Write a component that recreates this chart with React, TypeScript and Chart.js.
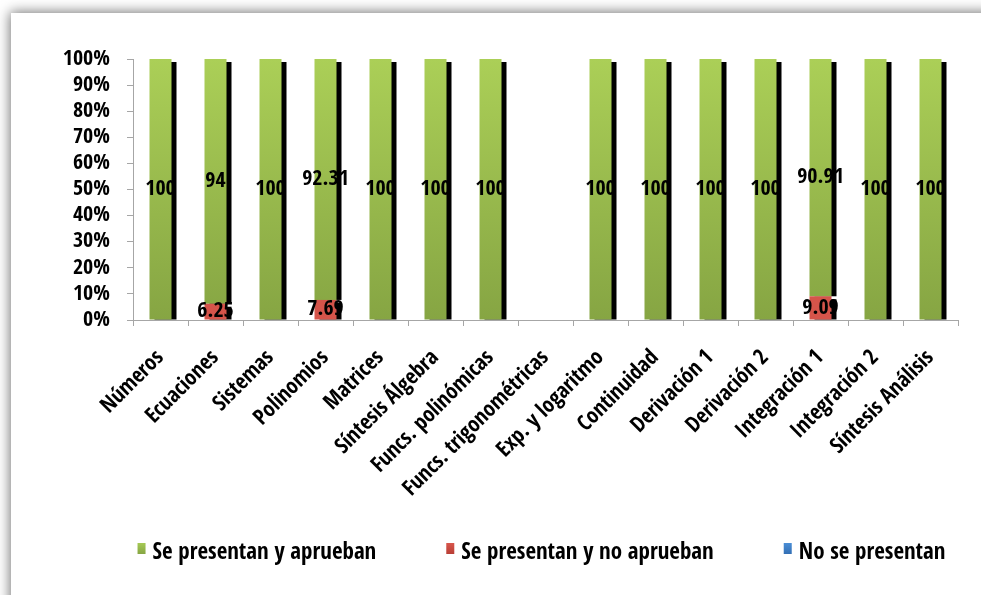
import React, { useEffect, useRef } from "react";
import { Chart, registerables } from "chart.js";

Chart.register(...registerables);

const categories = [
  "Números",
  "Ecuaciones",
  "Sistemas",
  "Polinomios",
  "Matrices",
  "Síntesis Álgebra",
  "Funcs. polinómicas",
  "Funcs. trigonométricas",
  "Exp. y logaritmo",
  "Continuidad",
  "Derivación 1",
  "Derivación 2",
  "Integración 1",
  "Integración 2",
  "Síntesis Análisis",
];

const apruebanValues: (number | null)[] = [100, 94, 100, 92.31, 100, 100, 100, null, 100, 100, 100, 100, 90.91, 100, 100];
const noApruebanValues: (number | null)[] = [null, 6.25, null, 7.69, null, null, null, null, null, null, null, null, 9.09, null, null];
const noPresentanValues: (number | null)[] = [null, null, null, null, null, null, null, null, null, null, null, null, null, null, null];

const seriesNames = ["Se presentan y aprueban", "Se presentan y no aprueban", "No se presentan"];
const seriesColors = ["#a6ca55", "#d8564c", "#4a8ed6"];
const seriesDarkColors = ["#86a543", "#b83e35", "#336fb4"];
const yTicks = [0, 10, 20, 30, 40, 50, 60, 70, 80, 90, 100];

const FONT = "'Open Sans Condensed', 'Roboto Condensed', 'Open Sans', sans-serif";

function pct(i: number, arr: (number | null)[]): number | null {
  const v = arr[i];
  const total = (apruebanValues[i] || 0) + (noApruebanValues[i] || 0) + (noPresentanValues[i] || 0);
  if (v == null || total === 0) return null;
  return (v / total) * 100;
}

export default function App() {
  const ref = useRef<HTMLCanvasElement | null>(null);

  useEffect(() => {
    if (!ref.current) return;

    const shadowPlugin = {
      id: "barShadow",
      beforeDatasetsDraw(chart: any) {
        const ctx = chart.ctx;
        ctx.save();
        ctx.fillStyle = "#000000";
        chart.data.datasets.forEach((_ds: any, di: number) => {
          const meta = chart.getDatasetMeta(di);
          meta.data.forEach((el: any, i: number) => {
            const raw = chart.data.datasets[di].data[i];
            if (raw == null) return;
            const h = el.base - el.y - 3;
            if (h <= 0) return;
            ctx.fillRect(el.x - el.width / 2 + 5, el.y + 3, el.width, h);
          });
        });
        ctx.restore();
      },
    };

    const labelPlugin = {
      id: "valueLabels",
      afterDatasetsDraw(chart: any) {
        const ctx = chart.ctx;
        ctx.save();
        ctx.font = `bold 22px ${FONT}`;
        ctx.fillStyle = "#000000";
        ctx.textAlign = "center";
        ctx.textBaseline = "middle";
        chart.data.datasets.forEach((ds: any, di: number) => {
          const meta = chart.getDatasetMeta(di);
          meta.data.forEach((el: any, i: number) => {
            const raw = ds.rawValues[i];
            if (raw == null) return;
            ctx.fillText(String(raw), el.x, (el.y + el.base) / 2);
          });
        });
        ctx.restore();
      },
    };

    // Legend drawn below the plot, centred under the plot area
    const legendPlugin = {
      id: "customLegend",
      afterDraw(chart: any) {
        const ctx = chart.ctx;
        const area = chart.chartArea;
        ctx.save();
        ctx.font = `bold 23px ${FONT}`;
        ctx.textBaseline = "middle";
        ctx.textAlign = "left";
        const boxW = 8;
        const boxH = 11;
        const boxGap = 7;
        const itemGap = 70;
        const widths = seriesNames.map((n) => boxW + boxGap + ctx.measureText(n).width);
        const total = widths.reduce((a, b) => a + b, 0) + itemGap * (widths.length - 1);
        let x = (area.left + area.right) / 2 - 4 - total / 2;
        const y = area.bottom + 233;
        seriesNames.forEach((n, i) => {
          const g = ctx.createLinearGradient(0, y - 10, 0, y + 1);
          g.addColorStop(0, seriesColors[i]);
          g.addColorStop(1, seriesDarkColors[i]);
          ctx.fillStyle = g;
          ctx.fillRect(x, y - 10, boxW, boxH);
          ctx.fillStyle = "#000000";
          ctx.fillText(n, x + boxW + boxGap, y);
          x += widths[i] + itemGap;
        });
        ctx.restore();
      },
    };

    const greenFill = (c: any) => {
      const area = c.chart.chartArea;
      if (!area) return seriesColors[0];
      const g = c.chart.ctx.createLinearGradient(0, area.top, 0, area.bottom);
      g.addColorStop(0, "#abcf57");
      g.addColorStop(1, seriesDarkColors[0]);
      return g;
    };

    const chart = new Chart(ref.current, {
      type: "bar",
      data: {
        labels: categories,
        datasets: [
          {
            label: seriesNames[1],
            data: categories.map((_, i) => pct(i, noApruebanValues)),
            rawValues: noApruebanValues,
            backgroundColor: "#d5544a",
            borderWidth: 0,
          } as any,
          {
            label: seriesNames[0],
            data: categories.map((_, i) => pct(i, apruebanValues)),
            rawValues: apruebanValues,
            backgroundColor: greenFill,
            borderWidth: 0,
          } as any,
          {
            label: seriesNames[2],
            data: categories.map((_, i) => pct(i, noPresentanValues)),
            rawValues: noPresentanValues,
            backgroundColor: seriesColors[2],
            borderWidth: 0,
          } as any,
        ],
      },
      options: {
        responsive: false,
        animation: false,
        devicePixelRatio: 1,
        datasets: { bar: { categoryPercentage: 1, barPercentage: 0.4 } },
        layout: { padding: { left: 0, right: 23, top: 59, bottom: 75 } },
        plugins: {
          tooltip: { enabled: false },
          legend: { display: false },
        },
        scales: {
          x: {
            stacked: true,
            grid: {
              offset: true,
              drawOnChartArea: false,
              drawTicks: true,
              tickLength: 6,
              color: "#a6a6a6",
            },
            border: { color: "#a6a6a6", width: 1 },
            ticks: {
              autoSkip: false,
              maxRotation: 45,
              minRotation: 45,
              padding: 19,
              color: "#000000",
              font: { family: FONT, size: 22, weight: "bold" },
            },
            afterFit: (s: any) => {
              s.height = 200;
            },
          },
          y: {
            stacked: true,
            min: 0,
            max: 100,
            grid: {
              drawOnChartArea: false,
              drawTicks: true,
              tickLength: 6,
              color: "#a6a6a6",
            },
            border: { color: "#a6a6a6", width: 1 },
            afterBuildTicks: (s: any) => {
              s.ticks = yTicks.map((v) => ({ value: v }));
            },
            ticks: {
              autoSkip: false,
              padding: 17,
              color: "#000000",
              font: { family: FONT, size: 22, weight: "bold" },
              callback: (v: any) => `${v}%`,
            },
            afterFit: (s: any) => {
              s.width = 133;
            },
          },
        },
      } as any,
      plugins: [shadowPlugin, labelPlugin, legendPlugin],
    });

    return () => chart.destroy();
  }, []);

  return (
    <div style={{ position: "fixed", left: 0, top: 0, width: 981, height: 595, overflow: "hidden", background: "#ffffff" }}>
      <div
        style={{
          position: "absolute",
          left: 11,
          top: 13,
          width: 1100,
          height: 700,
          background: "#ffffff",
          boxShadow: "-1px -1px 12px rgba(0,0,0,0.55)",
        }}
      />
      <canvas ref={ref} width={981} height={595} style={{ position: "absolute", left: 0, top: 0, width: 981, height: 595 }} />
    </div>
  );
}
